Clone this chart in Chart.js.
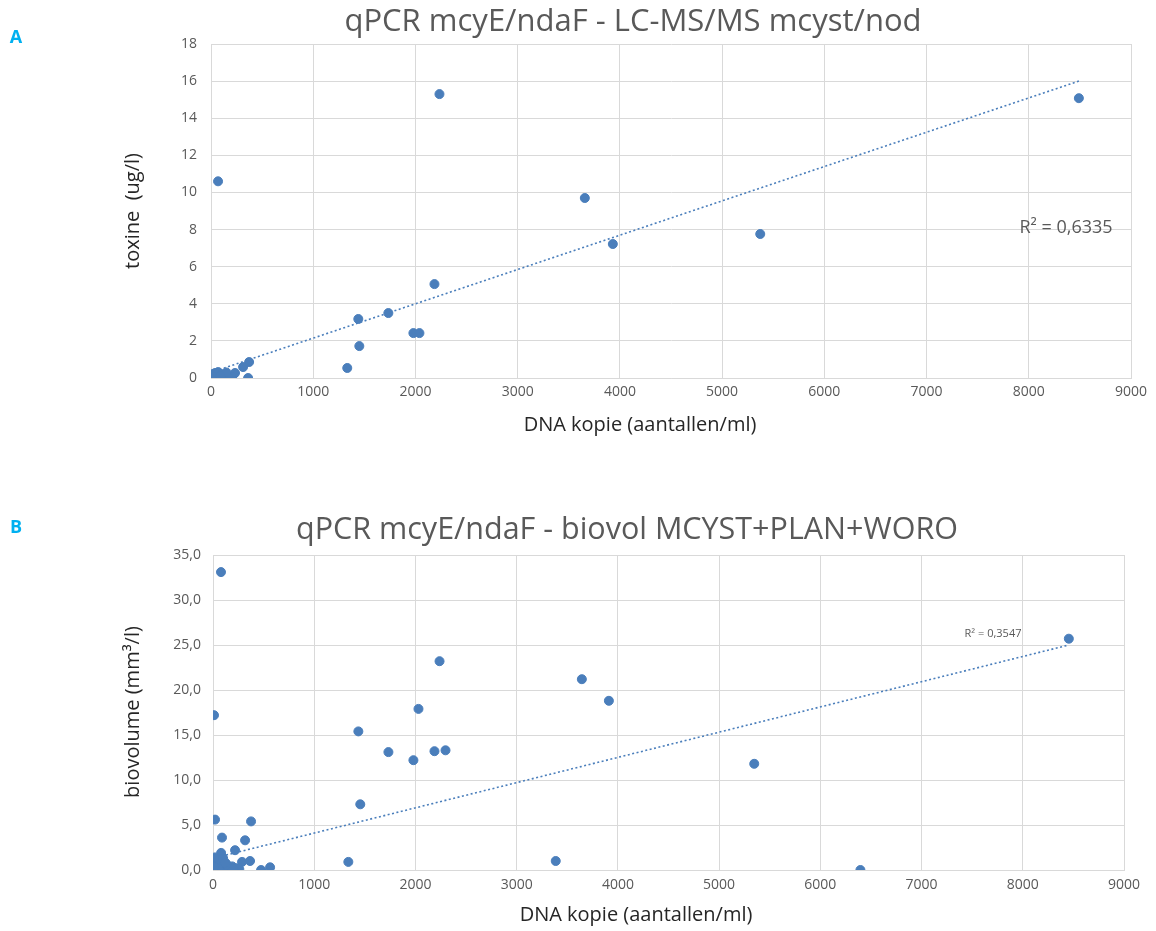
<!DOCTYPE html>
<html>
<head>
<meta charset="utf-8">
<script src="https://cdn.jsdelivr.net/npm/chart.js@4.4.0/dist/chart.umd.min.js"></script>
<style>
  html, body { margin: 0; padding: 0; background: #fff; }
  body { width: 1156px; height: 931px; position: relative; overflow: hidden; }
  canvas { position: absolute; left: 0; }
</style>
</head>
<body>
<canvas id="chartA" width="1156" height="450" style="top:0"></canvas>
<canvas id="chartB" width="1156" height="445" style="top:486px"></canvas>
<script>
// Chart A: DNA copies vs toxin
const dnaA = [69, 2235, 8490, 3657, 3931, 5373, 2186, 1441, 1735, 1980, 2039, 1451, 1333,
  373, 314, 363, 235, 206, 176, 0, 15, 20, 0, 40, 60, 70, 100, 118, 150, 30, 90];
const toxA = [10.6, 15.3, 15.08, 9.7, 7.22, 7.76, 5.06, 3.18, 3.5, 2.42, 2.42, 1.72, 0.54,
  0.86, 0.59, 0, 0.27, 0.05, 0, 0, 0, 0.1, 0.2, 0.27, 0, 0.32, 0.2, 0, 0.3, 0.05, 0.1];
const trendAx = [0, 8490];
const trendAy = [0.3, 16.0];

// Chart B: DNA copies vs biovolume
const dnaB = [79, 10, 8455, 2238, 3644, 3911, 2030, 1436, 1733, 2188, 2297, 1980, 5347, 1455,
  1337, 3386, 6396, 20, 376, 317, 89, 218, 80, 287, 366, 475, 564, 0, 30, 50, 70, 90, 110,
  130, 160, 190, 230, 260, 40, 80, 0, 20, 100, 60, 140, 10, 120, 200];
const bioB = [33.1, 17.2, 25.7, 23.2, 21.2, 18.8, 17.9, 15.4, 13.1, 13.2, 13.3, 12.2, 11.8, 7.3,
  0.9, 1.0, 0, 5.6, 5.4, 3.3, 3.6, 2.2, 1.9, 0.9, 1.0, 0, 0.3, 0, 0.4, 0.9, 1.1, 0.4, 0.2,
  0.7, 0.2, 0.4, 0.2, 0.1, 0, 0, 0.6, 1.4, 1.3, 0.1, 0.5, 0.3, 0.8, 0.1];
const trendBx = [0, 8455];
const trendBy = [1.3, 25.0];

const xTicks = [0, 1000, 2000, 3000, 4000, 5000, 6000, 7000, 8000, 9000];

const BLUE = '#4a7ebb';
const GRID = '#d9d9d9';
const GREY = '#595959';
const FONT = "'Open Sans', 'Liberation Sans', sans-serif";

function pts(xs, ys) {
  return xs.map((x, i) => ({ x, y: ys[i] }));
}

// free text drawn on top (titles, axis titles, R² labels)
const freeText = {
  id: 'freeText',
  afterDraw(chart, args, opts) {
    const ctx = chart.ctx;
    (opts.items || []).forEach(t => {
      ctx.save();
      ctx.font = t.font;
      ctx.fillStyle = t.color;
      ctx.textAlign = t.align || 'center';
      ctx.textBaseline = 'middle';
      ctx.translate(t.x, t.y);
      if (t.rotate) ctx.rotate(t.rotate);
      ctx.fillText(t.text, 0, 0);
      ctx.restore();
    });
  }
};

function makeChart(id, cfg) {
  return new Chart(document.getElementById(id).getContext('2d'), {
    type: 'scatter',
    data: {
      datasets: [{
        data: pts(cfg.xs, cfg.ys),
        backgroundColor: BLUE,
        borderColor: BLUE,
        pointRadius: cfg.radius,
        pointHoverRadius: cfg.radius
      }, {
        type: 'line',
        data: pts(cfg.tx, cfg.ty),
        borderColor: BLUE,
        borderWidth: 1.6,
        borderDash: [2, 2.5],
        pointRadius: 0,
        fill: false
      }]
    },
    options: {
      responsive: false,
      animation: false,
      layout: { padding: cfg.padding },
      plugins: {
        legend: { display: false },
        tooltip: { enabled: false },
        freeText: { items: cfg.texts }
      },
      scales: {
        x: {
          type: 'linear',
          min: 0, max: 9000,
          afterBuildTicks: s => { s.ticks = xTicks.map(v => ({ value: v })); },
          afterFit: s => { s.height = cfg.xHeight; },
          grid: { color: GRID, drawTicks: false },
          border: { color: GRID },
          ticks: {
            color: GREY, padding: cfg.xPad,
            font: { family: FONT, size: 14 },
            callback: v => String(v)
          }
        },
        y: {
          min: 0, max: cfg.yMax,
          afterFit: s => { s.width = cfg.yWidth; },
          grid: { color: GRID, drawTicks: false },
          border: { color: GRID },
          ticks: {
            stepSize: cfg.yStep,
            color: GREY,
            padding: cfg.yPad,
            font: { family: FONT, size: 14 },
            callback: cfg.yFmt
          }
        }
      }
    },
    plugins: [freeText]
  });
}

makeChart('chartA', {
  xs: dnaA, ys: toxA, tx: trendAx, ty: trendAy,
  radius: 4.5,
  padding: { left: 0, right: 25, top: 44, bottom: 0 },
  xHeight: 72, xPad: 6, yWidth: 211, yPad: 14,
  yMax: 18, yStep: 2,
  yFmt: v => String(v),
  texts: [
    { text: 'A', x: 16, y: 38, font: `bold 18px ${FONT}`, color: '#00b0f0' },
    { text: 'qPCR mcyE/ndaF - LC-MS/MS mcyst/nod', x: 633, y: 22, font: `31px ${FONT}`, color: GREY },
    { text: 'DNA kopie (aantallen/ml)', x: 640, y: 425, font: `20px ${FONT}`, color: '#262626' },
    { text: 'toxine  (ug/l)', x: 133, y: 211, rotate: -Math.PI / 2, font: `20px ${FONT}`, color: '#262626' },
    { text: 'R² = 0,6335', x: 1066, y: 228, font: `18px ${FONT}`, color: GREY }
  ]
});

makeChart('chartB', {
  xs: dnaB, ys: bioB, tx: trendBx, ty: trendBy,
  radius: 4.5,
  padding: { left: 0, right: 32, top: 69, bottom: 0 },
  xHeight: 61, xPad: 7, yWidth: 213, yPad: 12,
  yMax: 35, yStep: 5,
  yFmt: v => v.toFixed(1).replace('.', ','),
  texts: [
    { text: 'B', x: 16, y: 42, font: `bold 18px ${FONT}`, color: '#00b0f0' },
    { text: 'qPCR mcyE/ndaF - biovol MCYST+PLAN+WORO', x: 627, y: 44, font: `30.5px ${FONT}`, color: GREY },
    { text: 'DNA kopie (aantallen/ml)', x: 636, y: 429, font: `20px ${FONT}`, color: '#262626' },
    { text: 'biovolume (mm³/l)', x: 133, y: 226, rotate: -Math.PI / 2, font: `20px ${FONT}`, color: '#262626' },
    { text: 'R² = 0,3547', x: 993, y: 148, font: `11px ${FONT}`, color: GREY }
  ]
});
</script>
</body>
</html>
